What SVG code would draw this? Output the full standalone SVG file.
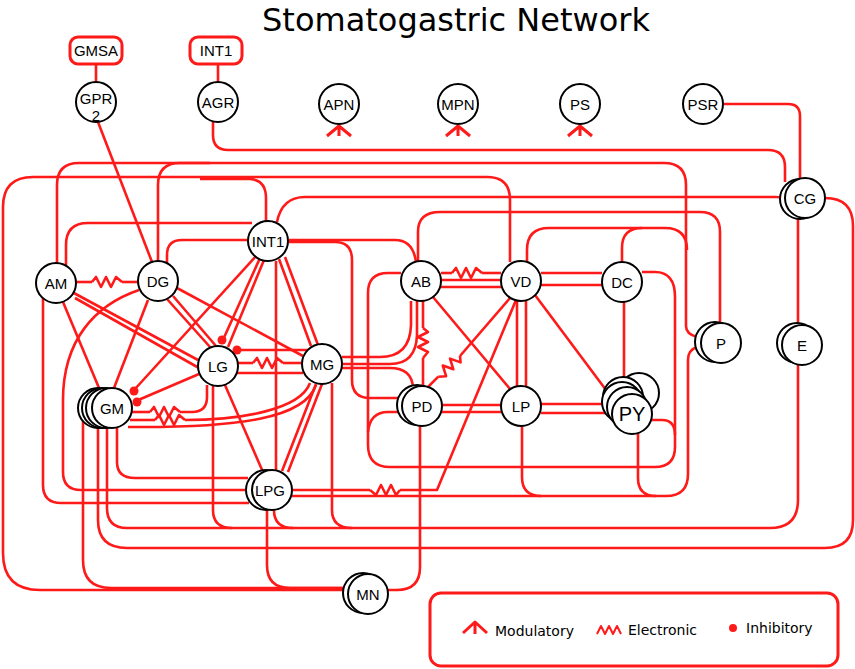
<svg xmlns="http://www.w3.org/2000/svg" xmlns:xlink="http://www.w3.org/1999/xlink" width="855" height="669" viewBox="0 0 855 669">
<style>
.e{fill:none;stroke:#ff1a1a;stroke-width:2.6;stroke-linejoin:round}
.n{fill:#fff;stroke:#000;stroke-width:2}
.t{font-family:"Liberation Sans",Arial,sans-serif;font-size:15px;text-anchor:middle;fill:#000}
.lg{font-family:"DejaVu Sans",Verdana,sans-serif;font-size:14px;fill:#000}
.dot{fill:#ff1a1a}
</style>
<defs>
<path id="zig" d="M0,0 l4,-5 l5,10 l5,-10 l5,10 l5,-10 l6,5"/>
<path id="mod" d="M-12,10 L0,0 L12,10 M0,0 V10"/>
</defs>
<rect width="855" height="669" fill="#fff"/>
<text x="456" y="31" style="font-family:'DejaVu Sans',Verdana,sans-serif;font-size:32px;text-anchor:middle">Stomatogastric Network</text>

<g id="connectors" class="e">
<path d="M96,65 V82"/>
<path d="M218,65 V82"/>
<path d="M98,122 L152,262"/>
<path d="M213,122 V135 Q213,150 228,150 H768 Q785,150 785,167 V182"/>
<path d="M723,104 H788 Q800,104 800,116 V178"/>
<path d="M825,198 Q853,198 853,226 V520 Q853,548 825,548 H127 Q98,548 98,520 V428"/>
<path d="M798,365 V500 Q798,528 770,528 H127 Q107,528 107,508 V428"/>
<path d="M83,421 V560 Q83,588 111,588 H346"/>
<path d="M510,262 V200 Q510,177 487,177 H33 Q3,177 3,207 V553 Q3,590 40,590 H348"/>
<path d="M266,221 V198 Q266,180 250,179 H200"/>
<path d="M57,263 V185 Q57,163 79,163 H664 Q686,163 686,185 V326 Q686,334 697,337"/>
<path d="M158,261 V185 Q158,163 180,163 H210"/>
<path d="M66,265 V245 Q66,223 88,223 H252"/>
<path d="M167,263 V255 Q167,240 182,240 H248"/>
<path d="M277,222 Q282,197 305,197 H776 Q798,197 798,220 V325"/>
<path d="M418,261 V232 Q418,212 440,212 H700 Q720,212 720,232 V323"/>
<path d="M527,262 V250 Q527,228 549,228 H665 Q687,228 687,250"/>
<path d="M622,262 V248 Q622,228 642,228"/>
<path d="M288,240 H395 Q413,240 416,262"/>
<path d="M288,242 H335 Q352,242 352,260 V380 Q352,398 370,398 H398"/>
<path d="M401,273 H388 Q368,273 368,293 V445 Q368,467 390,467 H655 Q675,467 675,447 V297 Q675,272 655,272 H642"/>
<path d="M398,412 H388 Q370,412 368,432"/>
<path d="M652,420 H662 Q675,420 675,435"/>
<path d="M342,357 H380 Q410,357 411,325 V301"/>
<path d="M342,364 H390 Q416,364 417,335 V301"/>
<path d="M342,368 H390 Q412,368 413,388"/>
<path d="M441,273 H452"/><use href="#zig" transform="translate(452,273)"/><path d="M482,273 H501"/>
<path d="M441,280 H501 M441,287 H501"/>
<path d="M423,301 V328"/><use href="#zig" transform="translate(423,328) rotate(90)"/><path d="M423,358 V386"/>
<path d="M510,298 L460,356"/><use href="#zig" transform="translate(460,356) rotate(136.3)"/><path d="M438.3,376.7 L428,387"/>
<path d="M433,297 L510,389"/>
<path d="M517,301 V386 M526,301 V386"/>
<path d="M516,300 L437,490 H400"/><use href="#zig" transform="translate(400,490) rotate(180)"/><path d="M370,490 H292"/>
<path d="M535,295 L612,398"/>
<path d="M541,273 H602 M541,285 H602"/>
<path d="M442,405 H501 M442,412 H501"/>
<path d="M541,404 H613 M541,413 H613"/>
<path d="M624,302 V378"/>
<path d="M292,496 H666 Q688,496 688,474 V360 Q688,350 697,347"/>
<path d="M638,433 V478 Q638,496 656,496"/>
<path d="M522,426 V477 Q522,496 541,496"/>
<path d="M420,426 V567 Q420,590 397,590 H388"/>
<path d="M267,510 V565 Q267,588 290,588 H345"/>
<path d="M274,510 Q274,528 293,528"/>
<path d="M213,385 V510 Q213,528 232,528"/>
<path d="M332,383 V510 Q332,528 352,528"/>
<path d="M117,427 V462 Q117,478 135,478 H248"/>
<path d="M43,298 V485 Q43,503 61,503 H249"/>
<path d="M139,290 C95,305 63,340 63,400 V472 Q63,490 81,490 H247"/>
<path d="M76,282 H92"/><use href="#zig" transform="translate(92,282)"/><path d="M122,282 H138"/>
<path d="M72,292 L198,360 M75,298 L199,368"/>
<path d="M63,302 L99,388"/>
<path d="M148,300 L114,388"/>
<path d="M167,299 L210,347 M173,296 L216,346"/>
<path d="M177,288 L303,356"/>
<path d="M256,256 L135,389"/>
<path d="M260,258 L222,342"/>
<path d="M264,260 L228,347"/>
<path d="M276,261 V470"/>
<path d="M279,259 L311,346 M285,257 L318,345"/>
<path d="M237,350 H312"/>
<path d="M238,363 H253"/><use href="#zig" transform="translate(253,363)"/><path d="M283,363 H302"/>
<path d="M237,373 H303"/>
<path d="M199,374 L136,401"/>
<path d="M132,412 H150"/><use href="#zig" transform="translate(150,412)"/><path d="M180,412 H192 Q207,412 207,397 V385"/>
<path d="M130,420 H155"/><use href="#zig" transform="translate(155,420)"/><path d="M185,420 C240,420 300,410 310,383"/>
<path d="M128,427 C240,428 305,418 316,385"/>
<path d="M225,385 L263,472"/>
<path d="M316,384 L282,471 M322,384 L288,472"/>
<use href="#mod" transform="translate(339,126)" style="stroke-width:3"/>
<use href="#mod" transform="translate(458,126)" style="stroke-width:3"/>
<use href="#mod" transform="translate(580,126)" style="stroke-width:3"/>
</g>
<g id="dots">
<circle class="dot" cx="134" cy="391" r="4.5"/>
<circle class="dot" cx="222" cy="340" r="4.5"/>
<circle class="dot" cx="237" cy="350" r="4.5"/>
<circle class="dot" cx="137" cy="402" r="4.5"/>
</g>

<g id="GMSA"><rect x="70" y="37" width="52" height="27" rx="8" fill="#fff" stroke="#ff1a1a" stroke-width="3"/><text class="t" x="96" y="56">GMSA</text></g>
<g id="INT1box"><rect x="190" y="37" width="52" height="27" rx="8" fill="#fff" stroke="#ff1a1a" stroke-width="3"/><text class="t" x="216" y="56">INT1</text></g>
<g id="GPR2"><circle class="n" cx="96" cy="102" r="20"/><text class="t" x="96" y="104">GPR</text><text class="t" x="96" y="121">2</text></g>
<g id="AGR"><circle class="n" cx="218" cy="102" r="20"/><text class="t" x="218" y="108">AGR</text></g>
<g id="APN"><circle class="n" cx="339" cy="104" r="20"/><text class="t" x="339" y="110">APN</text></g>
<g id="MPN"><circle class="n" cx="458" cy="104" r="20"/><text class="t" x="458" y="110">MPN</text></g>
<g id="PS"><circle class="n" cx="580" cy="104" r="20"/><text class="t" x="580" y="110">PS</text></g>
<g id="PSR"><circle class="n" cx="703" cy="104" r="20"/><text class="t" x="703" y="110">PSR</text></g>
<g id="CG"><circle class="n" cx="800" cy="199" r="20"/><circle class="n" cx="805" cy="198" r="20"/><text class="t" x="805" y="204">CG</text></g>
<g id="AM"><circle class="n" cx="56" cy="283" r="20"/><text class="t" x="56" y="289">AM</text></g>
<g id="DG"><circle class="n" cx="158" cy="281" r="20"/><text class="t" x="158" y="287">DG</text></g>
<g id="INT1"><circle class="n" cx="268" cy="241" r="20"/><text class="t" x="268" y="247">INT1</text></g>
<g id="LG"><circle class="n" cx="218" cy="366" r="20"/><text class="t" x="218" y="372">LG</text></g>
<g id="MG"><circle class="n" cx="322" cy="364" r="20"/><text class="t" x="322" y="370">MG</text></g>
<g id="GM"><circle class="n" cx="98" cy="408" r="20"/><circle class="n" cx="102" cy="408" r="20"/><circle class="n" cx="106" cy="408" r="20"/><circle class="n" cx="112" cy="408" r="20"/><text class="t" x="112" y="414">GM</text></g>
<g id="LPG"><circle class="n" cx="266" cy="490" r="20"/><circle class="n" cx="272" cy="490" r="20"/><text class="t" x="270" y="496">LPG</text></g>
<g id="AB"><circle class="n" cx="421" cy="281" r="20"/><text class="t" x="421" y="287">AB</text></g>
<g id="VD"><circle class="n" cx="521" cy="281" r="20"/><text class="t" x="521" y="287">VD</text></g>
<g id="DC"><circle class="n" cx="622" cy="282" r="20"/><text class="t" x="622" y="288">DC</text></g>
<g id="P"><circle class="n" cx="715" cy="342" r="20"/><circle class="n" cx="721" cy="343" r="20"/><text class="t" x="721" y="349">P</text></g>
<g id="E"><circle class="n" cx="797" cy="343" r="20"/><circle class="n" cx="802" cy="345" r="20"/><text class="t" x="802" y="351">E</text></g>
<g id="PD"><circle class="n" cx="417" cy="405" r="20"/><circle class="n" cx="422" cy="406" r="20"/><text class="t" x="422" y="412">PD</text></g>
<g id="LP"><circle class="n" cx="521" cy="406" r="20"/><text class="t" x="521" y="412">LP</text></g>
<g id="PY"><circle class="n" cx="639" cy="393" r="20"/><circle class="n" cx="623" cy="397" r="20"/><circle class="n" cx="622" cy="402" r="20"/><circle class="n" cx="627" cy="407" r="20"/><circle class="n" cx="632" cy="414" r="20"/><text class="t" x="632" y="421" style="font-size:20px">PY</text></g>
<g id="MN"><circle class="n" cx="363" cy="593" r="20"/><circle class="n" cx="368" cy="594" r="20"/><text class="t" x="368" y="600">MN</text></g>

<g id="legend">
<rect x="430" y="593" width="408" height="73" rx="11" fill="none" stroke="#ff1a1a" stroke-width="3"/>
<path d="M463,633 L475,622 L487,633 M475,622 V634" class="e" style="stroke-width:3"/>
<text class="lg" x="495" y="636">Modulatory</text>
<path d="M597,634 L601,626 L605,634 L609,626 L613,634 L617,626 L621,634" class="e" style="stroke-width:2"/>
<text class="lg" x="628" y="635">Electronic</text>
<circle class="dot" cx="733" cy="628" r="4"/>
<text class="lg" x="746" y="633">Inhibitory</text>
</g>
</svg>
